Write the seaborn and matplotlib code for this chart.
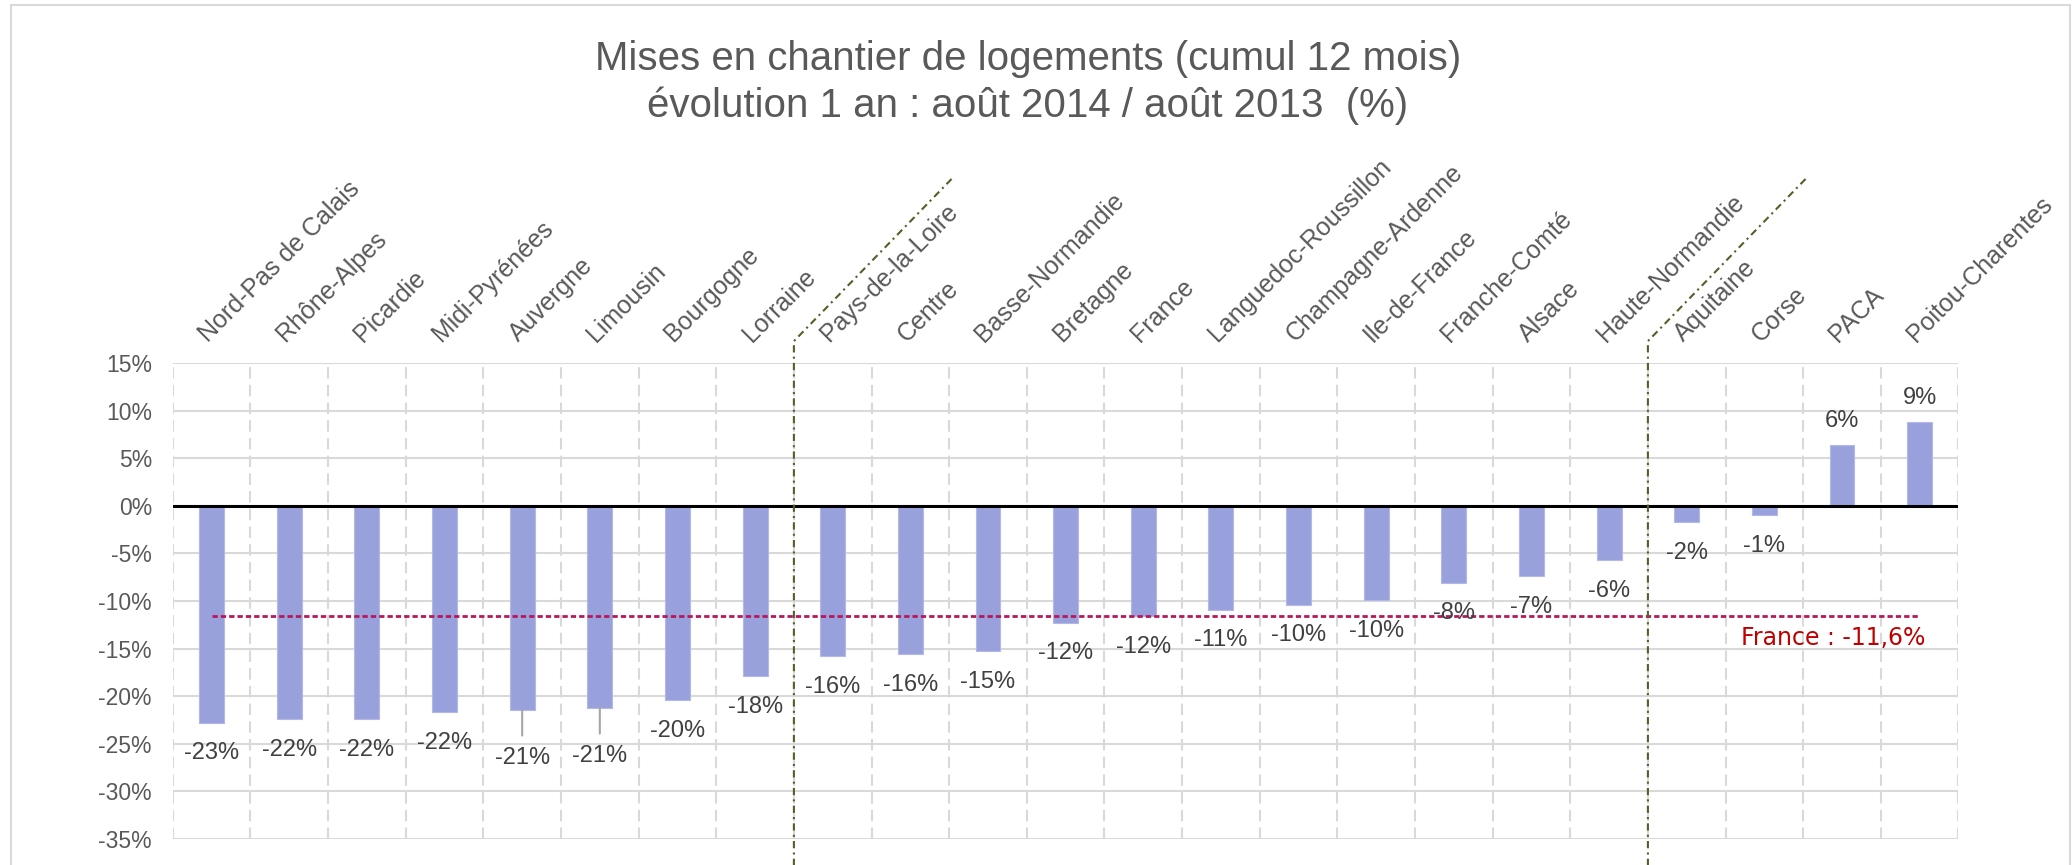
import numpy as np
import pandas as pd
import seaborn as sns
import matplotlib.pyplot as plt
from matplotlib.patches import Rectangle

regions = ['Nord-Pas de Calais', 'Rhône-Alpes', 'Picardie', 'Midi-Pyrénées', 'Auvergne',
           'Limousin', 'Bourgogne', 'Lorraine', 'Pays-de-la-Loire', 'Centre', 'Basse-Normandie',
           'Bretagne', 'France', 'Languedoc-Roussillon', 'Champagne-Ardenne', 'Ile-de-France',
           'Franche-Comté', 'Alsace', 'Haute-Normandie', 'Aquitaine', 'Corse', 'PACA',
           'Poitou-Charentes']
evolution = [-22.8, -22.4, -22.4, -21.7, -21.4, -21.2, -20.4, -17.9, -15.8, -15.6, -15.3,
             -12.3, -11.6, -10.9, -10.4, -9.9, -8.1, -7.4, -5.7, -1.7, -1.0, 6.4, 8.8]
france_avg = -11.6
group_ends = ['Lorraine', 'Haute-Normandie']      # last region before each separator
leader_labels = ['Auvergne', 'Limousin']          # labels pushed down with a leader line
y_ticks = list(range(-35, 16, 5))

title = 'Mises en chantier de logements (cumul 12 mois)\névolution 1 an : août 2014 / août 2013  (%)'

sns.set_theme(style='white')
plt.rcParams['font.family'] = ['Liberation Sans', 'DejaVu Sans']
plt.rcParams['axes.unicode_minus'] = False

fig = plt.figure(figsize=(20.72, 8.65), dpi=100)
ax = fig.add_axes([0.0834, 0.0301, 0.8618, 0.5502])
ax.set_axisbelow(True)

df = pd.DataFrame({'Region': regions, 'Evolution': evolution})
sns.barplot(data=df, x='Region', y='Evolution', color='#99A1DD', saturation=1,
            width=0.32, errorbar=None, edgecolor='#B3B8E8', linewidth=0.8, ax=ax, zorder=3)

# axes, grid
ax.set_ylim(y_ticks[0], y_ticks[-1])
ax.set_yticks(y_ticks)
ax.yaxis.set_major_formatter(lambda v, p: f'{v:.0f}%')
ax.set_xlim(-0.5, len(regions) - 0.5)
ax.set_xticks(np.arange(len(regions) + 1) - 0.5, minor=True)
ax.grid(axis='y', color='#D9D9D9', lw=1.5)
ax.grid(axis='x', which='minor', color='#D9D9D9', lw=1.5, ls=(0, (5.5, 3)))
ax.grid(axis='x', which='major', visible=False)
for s in ax.spines.values():
    s.set_visible(False)
ax.set_xlabel('')
ax.set_ylabel('')
ax.axhline(0, color='black', lw=2.2, zorder=4)

ax.xaxis.tick_top()
ax.tick_params(axis='x', which='both', length=0, pad=12, labelsize=18, labelcolor='#595959')
ax.tick_params(axis='y', length=0, pad=15, labelsize=16.5, labelcolor='#595959')
plt.setp(ax.get_xticklabels(), rotation=45, ha='left', va='bottom', rotation_mode='anchor')

# value labels
for i, (name, v) in enumerate(zip(regions, evolution)):
    off = 17 if v > 0 else -22
    arrow = None
    if name in leader_labels:
        off = -35
        arrow = dict(arrowstyle='-', color='#A6A6A6', lw=1.5, shrinkA=6, shrinkB=0)
    ax.annotate(f'{v:.0f}%', xy=(i, v), xytext=(0, off), textcoords='offset points',
                ha='center', va='center', fontsize=17, color='#404040', arrowprops=arrow,
                zorder=6)

# France average
ax.hlines(france_avg, 0, len(regions) - 1, color='#B8185A', lw=2, ls=(0, (1.9, 1.1)), zorder=5)
ax.annotate(f'France : {france_avg:.1f}%'.replace('.', ','), xy=(len(regions) - 1, france_avg),
            xytext=(4, -16), textcoords='offset points', ha='right', va='center',
            fontsize=17, color='#C00000', family='DejaVu Sans', zorder=6)

# group separators
for end in group_ends:
    xb = regions.index(end) + 0.5
    ax.plot([xb, xb, xb + 2.05], [-0.06, 1.046, 1.39], transform=ax.get_xaxis_transform(),
            clip_on=False, color='#4F6228', lw=1.5, ls=(0, (3.5, 2, 1, 2)), zorder=5)

fig.text(0.4961, 0.905, title, ha='center', va='center', fontsize=29, color='#595959',
         linespacing=1.27)
fig.patches.append(Rectangle((0.0053, -0.05), 0.9937, 1.044, transform=fig.transFigure,
                             fill=False, edgecolor='#D9D9D9', lw=1.5))

fig.savefig('out.png', dpi=100)
